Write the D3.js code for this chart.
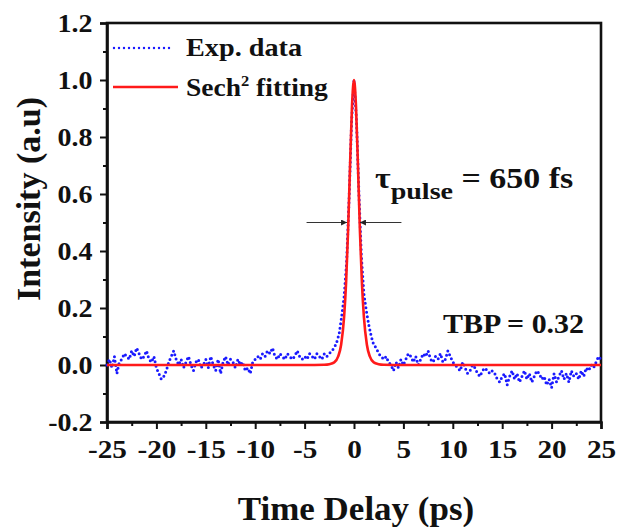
<!DOCTYPE html>
<meta charset="utf-8">
<style>
body { margin: 0; background: #fff; }
svg text { font-family: "Liberation Serif", "Times New Roman", Times, serif; font-weight: bold; fill: #111; }
.frame { fill: none; stroke: #111; stroke-width: 2.6px; }
.axis path { stroke: #111; stroke-width: 2.6px; }
.axis line { stroke: #111; stroke-width: 2px; }
.axis text { font-size: 25px; }
.exp { fill: none; stroke: #1a1aff; stroke-width: 3px; stroke-linecap: round; stroke-dasharray: 0,4.5; }
.fit { fill: none; stroke: #ff1a1a; stroke-width: 2.6px; }
.fwhm { stroke: #333; stroke-width: 1px; }
</style>
<svg width="617" height="527"></svg>
<script src="https://cdn.jsdelivr.net/npm/d3@7"></script>
<script>

// time delay samples (ps) of the autocorrelation trace
var expDelay = [
  -25,-24.75,-24.5,-24.25,-24,-23.75,-23.5,-23.25,-23,-22.75,-22.5,-22.25,-22,-21.75,-21.5,-21.25,-21,-20.75,-20.5,-20.25,
  -20,-19.75,-19.5,-19.25,-19,-18.75,-18.5,-18.25,-18,-17.75,-17.5,-17.25,-17,-16.75,-16.5,-16.25,-16,-15.75,-15.5,-15.25,
  -15,-14.75,-14.5,-14.25,-14,-13.75,-13.5,-13.25,-13,-12.75,-12.5,-12.25,-12,-11.75,-11.5,-11.25,-11,-10.75,-10.5,-10.25,
  -10,-9.75,-9.5,-9.25,-9,-8.75,-8.5,-8.25,-8,-7.75,-7.5,-7.25,-7,-6.75,-6.5,-6.25,-6,-5.75,-5.5,-5.25,
  -5,-4.75,-4.5,-4.25,-4,-3.75,-3.5,-3.25,-3,-2.75,-2.5,-2.25,-2,-1.75,-1.5,-1.25,-1,-0.75,-0.5,-0.25,
  0,
  0.25,0.5,0.75,1,1.25,1.5,1.75,2,2.25,2.5,2.75,3,3.25,3.5,3.75,4,4.25,4.5,4.75,5,
  5.25,5.5,5.75,6,6.25,6.5,6.75,7,7.25,7.5,7.75,8,8.25,8.5,8.75,9,9.25,9.5,9.75,10,
  10.25,10.5,10.75,11,11.25,11.5,11.75,12,12.25,12.5,12.75,13,13.25,13.5,13.75,14,14.25,14.5,14.75,15,
  15.25,15.5,15.75,16,16.25,16.5,16.75,17,17.25,17.5,17.75,18,18.25,18.5,18.75,19,19.25,19.5,19.75,20,
  20.25,20.5,20.75,21,21.25,21.5,21.75,22,22.25,22.5,22.75,23,23.25,23.5,23.75,24,24.25,24.5,24.75,25
];

var expIntensity = [
  0.00,0.02,-0.01,0.03,-0.03,0.01,0.02,0.04,0.03,0.02,0.05,0.03,0.06,0.04,0.02,0.03,0.05,0.02,0.01,0.03,
  -0.01,-0.03,-0.05,-0.04,-0.02,0.01,0.03,0.05,0.02,0.00,0.02,-0.01,0.01,0.03,0.00,-0.02,0.01,0.02,-0.01,0.00,
  0.02,-0.01,0.03,0.00,-0.02,0.02,-0.03,0.01,0.03,0.00,0.02,0.01,-0.01,0.02,0.00,0.01,-0.02,-0.01,-0.03,0.01,
  0.02,0.03,0.02,0.04,0.03,0.05,0.04,0.06,0.03,0.02,0.04,0.03,0.02,0.04,0.03,0.02,0.03,0.05,0.03,0.02,
  0.03,0.02,0.04,0.03,0.02,0.04,0.03,0.02,0.04,0.03,0.04,0.05,0.06,0.08,0.11,0.17,0.24,0.36,0.58,0.85,
  1.00,
  0.86,0.60,0.38,0.25,0.19,0.14,0.10,0.07,0.06,0.04,0.03,0.02,0.03,0.01,0.00,-0.02,0.01,-0.01,0.02,0.00,
  0.02,0.04,0.03,0.01,0.03,0.00,0.02,0.04,0.03,0.05,0.02,0.01,0.03,0.02,0.04,0.01,0.02,0.05,0.03,0.01,
  0.00,-0.01,-0.02,0.01,-0.01,-0.03,-0.02,0.00,-0.01,-0.03,-0.04,-0.02,-0.01,-0.02,-0.03,-0.02,-0.03,-0.05,-0.06,-0.04,
  -0.03,-0.07,-0.04,-0.02,-0.05,-0.03,-0.06,-0.04,-0.02,-0.05,-0.03,-0.06,-0.04,-0.02,-0.03,-0.05,-0.04,-0.07,-0.05,-0.08,
  -0.03,-0.06,-0.04,-0.02,-0.05,-0.03,-0.06,-0.02,-0.04,-0.03,-0.05,-0.02,-0.04,-0.01,-0.02,0.00,-0.01,0.01,0.03,0.02
];

// sech^2 fit curve, sampled
var fitDelay = [-25,-5,-3,-2.5,-2,-1.6,-1.3,-1,-0.8,-0.6,-0.4,-0.2,0,0.2,0.4,0.6,0.8,1,1.3,1.6,2,2.5,3,5,25];
var fitIntensity = [0,0,0.001,0.003,0.009,0.03,0.072,0.17,0.29,0.47,0.70,0.91,1.0,0.91,0.70,0.47,0.29,0.17,0.072,0.03,0.009,0.003,0.001,0,0];

var xTicks = [-25,-20,-15,-10,-5,0,5,10,15,20,25];
var xMinor = [-22.5,-17.5,-12.5,-7.5,-2.5,2.5,7.5,12.5,17.5,22.5];
var yTicks = [-0.2,0,0.2,0.4,0.6,0.8,1.0,1.2];
var yMinor = [-0.1,0.1,0.3,0.5,0.7,0.9,1.1];

var svg = d3.select("svg");

var x = d3.scaleLinear().domain([-25, 25]).range([107, 601]);
var y = d3.scaleLinear().domain([-0.2, 1.2]).range([422, 23]);

// the original figure is a bit wider than tall, so text gets a horizontal stretch
function stretched(px, py, sx) {
  return svg.append("text").attr("transform", "translate(" + px + "," + py + ") scale(" + sx + ",1)");
}

// frame
svg.append("rect")
    .attr("class", "frame")
    .attr("x", x(-25)).attr("y", y(1.2))
    .attr("width", x(25) - x(-25)).attr("height", y(-0.2) - y(1.2));

// minor ticks
svg.append("g").attr("class", "axis")
    .attr("transform", "translate(0," + y(-0.2) + ")")
    .call(d3.axisBottom(x).tickValues(xMinor).tickSize(4).tickFormat(""))
    .select(".domain").remove();
svg.append("g").attr("class", "axis")
    .attr("transform", "translate(" + x(-25) + ",0)")
    .call(d3.axisLeft(y).tickValues(yMinor).tickSize(4).tickFormat(""))
    .select(".domain").remove();

// major ticks
var gx = svg.append("g").attr("class", "axis")
    .attr("transform", "translate(0," + y(-0.2) + ")")
    .call(d3.axisBottom(x).tickValues(xTicks).tickSize(7).tickPadding(11).tickFormat(function(d) { return String(d); }));
var gy = svg.append("g").attr("class", "axis")
    .attr("transform", "translate(" + x(-25) + ",0)")
    .call(d3.axisLeft(y).tickValues(yTicks).tickSize(7).tickPadding(6).tickFormat(function(d) { return d.toFixed(1); }));
gx.attr("font-family", null).attr("font-size", null);
gy.attr("font-family", null).attr("font-size", null);
gx.selectAll("text").attr("transform", "scale(1.17,1)");
gy.selectAll("text").attr("transform", "scale(1.12,1)");

// data
var expData = expDelay.map(function(d, i) { return [d, expIntensity[i]]; });
var fitData = fitDelay.map(function(d, i) { return [d, fitIntensity[i]]; });

svg.append("path")
    .datum(expData)
    .attr("class", "exp")
    .attr("d", d3.line().x(function(d) { return x(d[0]); }).y(function(d) { return y(d[1]); }));

svg.append("path")
    .datum(fitData)
    .attr("class", "fit")
    .attr("d", d3.line().curve(d3.curveMonotoneX).x(function(d) { return x(d[0]); }).y(function(d) { return y(d[1]); }));

// legend
svg.append("line").attr("class", "exp")
    .attr("x1", 114).attr("x2", 173).attr("y1", 48).attr("y2", 48)
    .style("stroke-width", "2.4px").style("stroke-dasharray", "0,5");
stretched(186, 56, 1.13).style("font-size", "25px").text("Exp. data");

svg.append("line").attr("class", "fit")
    .attr("x1", 113).attr("x2", 178).attr("y1", 87).attr("y2", 87);
var lt = stretched(186, 96, 1.1).style("font-size", "25px");
lt.append("tspan").text("Sech");
lt.append("tspan").attr("dy", -10).style("font-size", "15px").text("2");
lt.append("tspan").attr("dy", 10).text(" fitting");

// FWHM marker
svg.append("defs").append("marker")
    .attr("id", "arr").attr("viewBox", "0 0 10 10")
    .attr("refX", 10).attr("refY", 5)
    .attr("markerWidth", 9).attr("markerHeight", 6)
    .attr("markerUnits", "userSpaceOnUse")
    .attr("orient", "auto")
  .append("path").attr("d", "M0,0L10,5L0,10Z").attr("fill", "#222");

svg.append("line").attr("class", "fwhm")
    .attr("x1", x(-4.8)).attr("x2", x(-0.7)).attr("y1", y(0.5)).attr("y2", y(0.5))
    .attr("marker-end", "url(#arr)");
svg.append("line").attr("class", "fwhm")
    .attr("x1", x(4.8)).attr("x2", x(0.6)).attr("y1", y(0.5)).attr("y2", y(0.5))
    .attr("marker-end", "url(#arr)");

var tau = stretched(375, 188, 1.17).style("font-size", "29px");
tau.append("tspan").text("τ");
tau.append("tspan").attr("dy", 11).style("font-size", "24px").text("pulse");
tau.append("tspan").attr("dy", -11).text(" = 650 fs");

stretched(443, 333, 1.07).style("font-size", "28px").text("TBP = 0.32");

// axis titles
stretched(356, 520, 1.06)
    .attr("text-anchor", "middle")
    .style("font-size", "33px")
    .text("Time Delay (ps)");

svg.append("text")
    .attr("transform", "translate(40,199) rotate(-90)")
    .attr("text-anchor", "middle")
    .style("font-size", "34px")
    .text("Intensity (a.u)");

</script>
